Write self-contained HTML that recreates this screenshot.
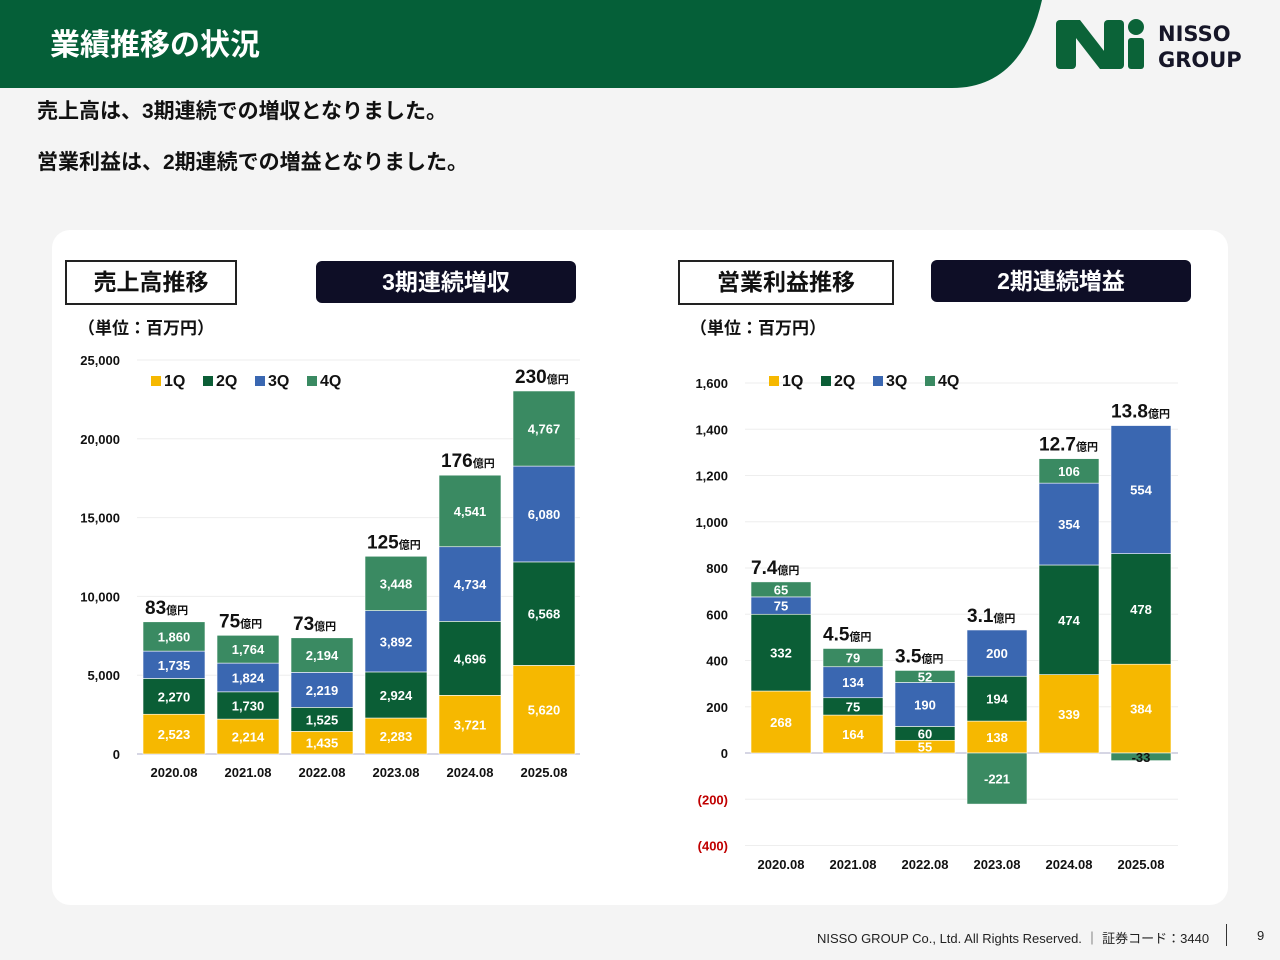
<!DOCTYPE html>
<html><head><meta charset="utf-8">
<style>
body{margin:0;width:1280px;height:960px;background:#f4f4f4;font-family:"Liberation Sans","Noto Sans CJK JP",sans-serif;position:relative;overflow:hidden}
.abs{position:absolute}
.t{font-weight:bold;color:#111}
</style></head><body>
<svg class="abs" style="left:0;top:0" width="1280" height="960">
<path d="M0 0 H1042 Q1022 88 952 88 H0 Z" fill="#055f38"/>
<text x="50" y="55" fill="#fff" font-size="30" font-weight="bold" font-family="Liberation Sans, Noto Sans CJK JP, sans-serif">業績推移の状況</text>
<g fill="#0b6338">
<rect x="1056" y="20" width="20" height="49" rx="4"/><rect x="1104" y="20" width="20" height="49" rx="4"/>
<polygon points="1062,20 1080,20 1118,69 1100,69"/>
<rect x="1128" y="38" width="16" height="31" rx="3"/><circle cx="1136" cy="27" r="8"/>
</g>
<text x="1158" y="41" font-size="21" font-weight="bold" fill="#161628" font-family="DejaVu Sans, sans-serif">NISSO</text>
<text x="1158" y="67" font-size="21" font-weight="bold" fill="#161628" font-family="DejaVu Sans, sans-serif">GROUP</text>
<rect x="52" y="230" width="1176" height="675" rx="18" fill="#fff"/>
<g id="charts"></g>
</svg>
<div class="abs t" style="left:37px;top:95px;font-size:21px">売上高は、3期連続での増収となりました。</div>
<div class="abs t" style="left:37px;top:146px;font-size:21px">営業利益は、2期連続での増益となりました。</div>
<div class="abs t" style="left:65px;top:260px;width:168px;height:41px;border:2px solid #222;background:#fff;font-size:23px;text-align:center;line-height:41px">売上高推移</div>
<div class="abs t" style="left:316px;top:261px;width:260px;height:42px;border-radius:6px;background:#0e0e26;color:#fff;font-size:23px;text-align:center;line-height:42px">3期連続増収</div>
<div class="abs t" style="left:678px;top:260px;width:212px;height:41px;border:2px solid #222;background:#fff;font-size:23px;text-align:center;line-height:41px">営業利益推移</div>
<div class="abs t" style="left:931px;top:260px;width:260px;height:42px;border-radius:6px;background:#0e0e26;color:#fff;font-size:23px;text-align:center;line-height:42px">2期連続増益</div>
<div class="abs t" style="left:78px;top:314px;font-size:17px">（単位：百万円）</div>
<div class="abs t" style="left:690px;top:314px;font-size:17px">（単位：百万円）</div>
<div class="abs" style="left:817px;top:928px;font-size:13px;color:#222">NISSO GROUP Co., Ltd. All Rights Reserved. ｜ 証券コード：3440</div>
<div class="abs" style="left:1226px;top:924px;width:1px;height:22px;background:#333"></div>
<div class="abs" style="left:1257px;top:928px;font-size:13px;color:#222">9</div>
<script>
const years=["2020.08","2021.08","2022.08","2023.08","2024.08","2025.08"];
const salesQ1=[2523,2214,1435,2283,3721,5620];
const salesQ2=[2270,1730,1525,2924,4696,6568];
const salesQ3=[1735,1824,2219,3892,4734,6080];
const salesQ4=[1860,1764,2194,3448,4541,4767];
const salesTotals=["83","75","73","125","176","230"];
const salesTicks=[0,5000,10000,15000,20000,25000];
const profQ1=[268,164,55,138,339,384];
const profQ2=[332,75,60,194,474,478];
const profQ3=[75,134,190,200,354,554];
const profQ4=[65,79,52,-221,106,-33];
const profTotals=["7.4","4.5","3.5","3.1","12.7","13.8"];
const profTicks=[-400,-200,0,200,400,600,800,1000,1200,1400,1600];
const colors=["#f6b800","#0b5e36","#3a67b1","#3a8a62"];
const NS="http://www.w3.org/2000/svg";
const G=document.getElementById('charts');
function mk(tag,at,txt){const e=document.createElementNS(NS,tag);for(const k in at)e.setAttribute(k,at[k]);if(txt!==undefined)e.textContent=txt;G.appendChild(e);return e;}
function fmt(v){return v<0?"-"+Math.abs(v).toLocaleString("en-US"):v.toLocaleString("en-US");}
function tfmt(v){return v<0?"("+Math.abs(v).toLocaleString("en-US")+")":v.toLocaleString("en-US");}
function chart(cfg){
  const y=v=>cfg.y0-(v-cfg.vmin)*(cfg.y0-cfg.y1)/(cfg.vmax-cfg.vmin);
  const x=i=>cfg.x0+i*cfg.step;
  cfg.ticks.forEach(t=>{
    const l=mk('line',{x1:cfg.gx0,x2:cfg.gx1,y1:y(t),y2:y(t),stroke:t===0?"#c8c8dc":"#eeeeee","stroke-width":t===0?1.5:1});
    
    const tx=mk('text',{x:cfg.tx,y:y(t)+5,"text-anchor":"end","font-size":13,"font-weight":"bold",fill:t<0?"#c00000":"#111"},tfmt(t));
    
  });
  years.forEach((yr,i)=>{
    let pos=0,neg=0;
    cfg.series.forEach((s,k)=>{
      const v=s[i];let a,b;
      if(v>=0){a=pos;b=pos+v;pos=b;}else{a=neg;b=neg+v;neg=b;}
      const top=y(Math.max(a,b)),bot=y(Math.min(a,b));
      const r=mk('rect',{x:x(i)-cfg.bw/2,y:top,width:cfg.bw,height:bot-top,fill:colors[k],stroke:"#fff","stroke-width":0.6});
      
      const lab=mk('text',{x:x(i),y:(top+bot)/2+5,"text-anchor":"middle","font-size":13,"font-weight":"bold",fill:(v<0&&bot-top<14)?"#111":"#fff"},fmt(v));
      if(v<0&&bot-top<14)lab.setAttribute('y',top+9);
      
    });
    const tt=mk('text',{x:x(i)-cfg.bw/2+(cfg.totOff||0),y:y(pos)-8,"font-weight":"bold",fill:"#111"});
    
    const s1=document.createElementNS(NS,'tspan');s1.setAttribute('font-size',19);s1.textContent=cfg.totals[i];tt.appendChild(s1);
    const s2=document.createElementNS(NS,'tspan');s2.setAttribute('font-size',11);s2.textContent="億円";tt.appendChild(s2);
    const xl=mk('text',{x:x(i),y:cfg.xly,"text-anchor":"middle","font-size":13,"font-weight":"bold",fill:"#111"},yr);
    
  });
  ["1Q","2Q","3Q","4Q"].forEach((q,k)=>{
    const lx=cfg.lx+k*52;
    const r=mk('rect',{x:lx,y:cfg.ly-10,width:10,height:10,fill:colors[k]});
    
    const t=mk('text',{x:lx+13,y:cfg.ly,"font-size":16,"font-weight":"bold",fill:"#111"},q);
    
  });
}
chart({series:[salesQ1,salesQ2,salesQ3,salesQ4],totals:salesTotals,ticks:salesTicks,vmin:0,vmax:25000,y0:754,y1:360,x0:174,step:74,bw:62,gx0:137,gx1:580,tx:120,xly:777,lx:151,ly:386,totOff:2});
chart({series:[profQ1,profQ2,profQ3,profQ4],totals:profTotals,ticks:profTicks,vmin:-400,vmax:1600,y0:845.5,y1:383,x0:781,step:72,bw:60,gx0:745,gx1:1178,tx:728,xly:869,lx:769,ly:386,totOff:0});
</script>
</body></html>
